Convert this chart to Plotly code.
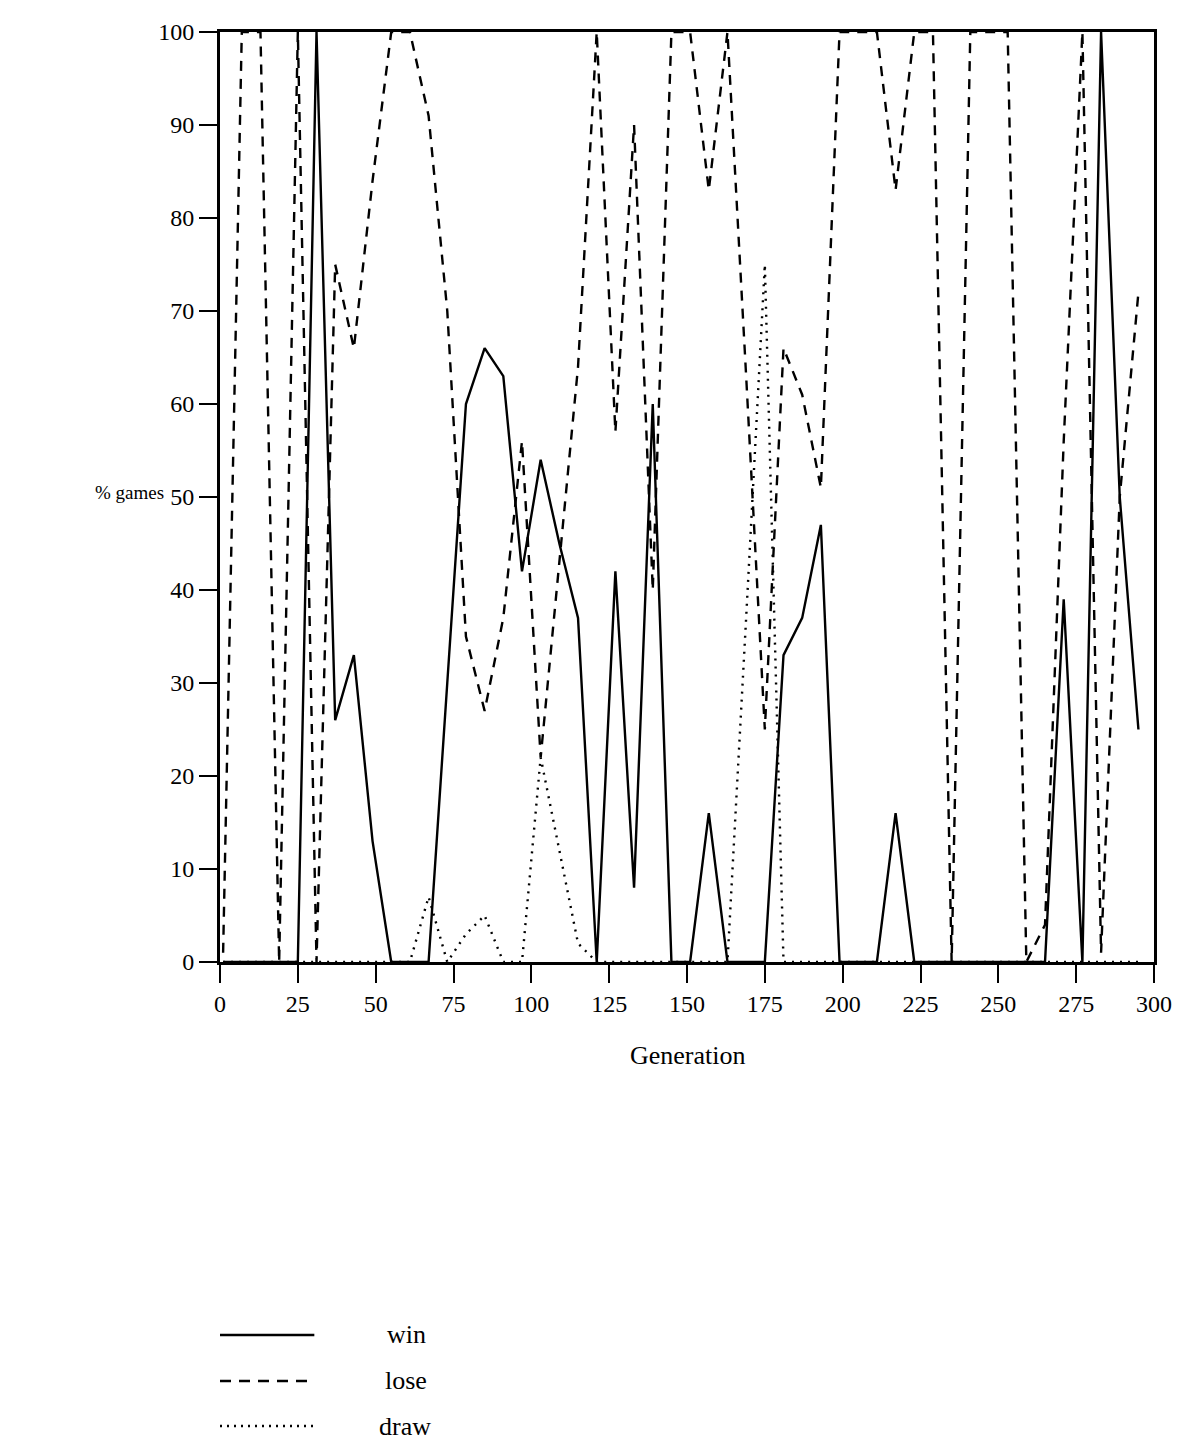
import plotly.graph_objects as go

# Generation at which each sample was taken
generations = [1, 7, 13, 19, 25, 31, 37, 43, 49, 55,
               61, 67, 73, 79, 85, 91, 97, 103, 109, 115,
               121, 127, 133, 139, 145, 151, 157, 163, 169, 175,
               181, 187, 193, 199, 205, 211, 217, 223, 229, 235,
               241, 247, 253, 259, 265, 271, 277, 283, 289, 295]

# % games won / lost / drawn
win = [0, 0, 0, 0, 0, 100, 26, 33, 13, 0,
       0, 0, 30, 60, 66, 63, 42, 54, 45, 37,
       0, 42, 8, 60, 0, 0, 16, 0, 0, 0,
       33, 37, 47, 0, 0, 0, 16, 0, 0, 0,
       0, 0, 0, 0, 0, 39, 0, 100, 50, 25]

lose = [1, 100, 100, 0, 100, 0, 75, 66, 84, 100,
        100, 91, 70, 35, 27, 37, 56, 22, 43, 64,
        100, 57, 90, 40, 100, 100, 83, 100, 63, 25,
        66, 61, 51, 100, 100, 100, 83, 100, 100, 0,
        100, 100, 100, 0, 4, 56, 100, 1, 50, 72]

draw = [0, 0, 0, 0, 0, 0, 0, 0, 0, 0,
        0, 7, 0, 3, 5, 0, 0, 22, 12, 2,
        0, 0, 0, 0, 0, 0, 0, 0, 37, 75,
        0, 0, 0, 0, 0, 0, 0, 0, 0, 0,
        0, 0, 0, 0, 0, 0, 0, 0, 0, 0]

x_ticks = [0, 25, 50, 75, 100, 125, 150, 175, 200, 225, 250, 275, 300]
y_ticks = [0, 10, 20, 30, 40, 50, 60, 70, 80, 90, 100]

series_names = ["win", "lose", "draw"]
series_dash = ["solid", "10px,8px", "2px,6px"]

FONT = "Liberation Serif, Times New Roman, serif"

fig = go.Figure()
for name, vals, dash in zip(series_names, [win, lose, draw], series_dash):
    fig.add_trace(go.Scatter(
        x=generations, y=vals, mode="lines", name=name,
        line=dict(color="black", width=2.4, dash=dash),
        showlegend=False, cliponaxis=False, hoverinfo="skip",
    ))

axis_common = dict(
    showline=True, linecolor="black", linewidth=3, mirror=True,
    ticks="outside", ticklen=18, tickwidth=2, tickcolor="black",
    showgrid=False, zeroline=False,
    tickfont=dict(family=FONT, size=24, color="black"),
)

fig.update_layout(
    width=1184, height=1441,
    margin=dict(l=220, r=24, t=32, b=479),
    paper_bgcolor="white", plot_bgcolor="white",
    font=dict(family=FONT, color="black"),
    xaxis=dict(range=[0, 300], tickvals=x_ticks, **axis_common),
    yaxis=dict(range=[0, 100], tickvals=y_ticks, **axis_common),
)

# axis titles
fig.add_annotation(text="% games", xref="paper", yref="paper",
                   x=-0.058, y=0.505, xanchor="right", yanchor="middle",
                   showarrow=False, font=dict(family=FONT, size=19))
fig.add_annotation(text="Generation", xref="paper", yref="paper",
                   x=0.501, y=-0.10, xanchor="center", yanchor="middle",
                   showarrow=False, font=dict(family=FONT, size=26))

# legend (drawn below the plot like the original)
leg_y = [-0.401, -0.4505, -0.499]
leg_lx = [0.177, 0.175, 0.168]
leg_dash = ["solid", "11px,8px", "2px,5px"]
for name, y, lx, dash in zip(series_names, leg_y, leg_lx, leg_dash):
    fig.add_shape(type="line", xref="paper", yref="paper",
                  x0=0.0, x1=0.101, y0=y, y1=y,
                  line=dict(color="black", width=2.4, dash=dash))
    fig.add_annotation(text=name, xref="paper", yref="paper",
                       x=lx, y=y, xanchor="left", yanchor="middle",
                       showarrow=False, font=dict(family=FONT, size=26))

fig.write_html("out.html",
               config={"displayModeBar": False},
               post_script="document.body.style.margin='0';document.body.style.overflow='hidden';")
